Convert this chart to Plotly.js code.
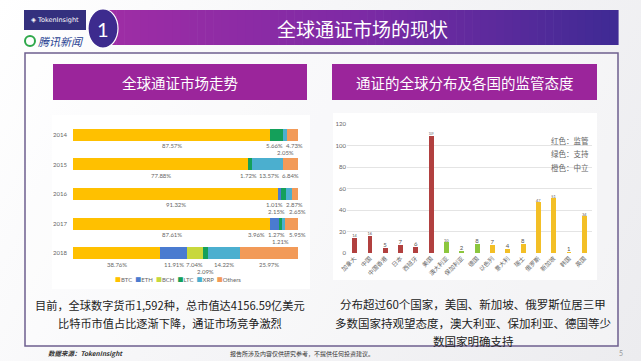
<!DOCTYPE html>
<html><head><meta charset="utf-8">
<script src="https://cdn.plot.ly/plotly-3.0.1.min.js"></script>
<style>
html,body{margin:0;padding:0;width:641px;height:361px;overflow:hidden;
background:linear-gradient(120deg,#ffffff 0%,#f6f6f8 40%,#ececef 100%);}
#chart{width:641px;height:361px;}
</style>
</head><body><div id="chart"></div>
<script>
// ---------- data: left chart (market share of tokens) ----------
const years = ['2014','2015','2016','2017','2018'];
const coins = ['BTC','ETH','BCH','LTC','XRP','Others'];
const btc    = [87.57, 77.88, 91.32, 87.61, 38.76];
const eth    = [0,     0,     1.01,  3.96,  11.91];
const bch    = [0,     0,     0,     0,     7.04];
const ltc    = [5.66,  1.72,  2.15,  1.21,  2.09];
const xrp    = [2.05,  13.57, 2.87,  1.27,  14.22];
const others = [4.73,  6.84,  2.65,  5.95,  25.97];
const coinColors = ['#FFC000','#4A7BD0','#C8D83C','#14A05A','#4BAFCF','#F29A58'];

// ---------- data: right chart (countries & attitude) ----------
const countries = ['加拿大','中国','中国香港','日本','西班牙','美国','澳大利亚','保加利亚','德国',
                   '以色列','意大利','瑞士','俄罗斯','新加坡','韩国','英国'];
const counts    = [14,16,5,7,6,109,10,2,8,7,4,8,47,51,1,34];
const attitude  = ['监管','监管','监管','监管','监管','监管','支持','支持','支持',
                   '中立','中立','中立','中立','中立','中立','中立'];
const attitudes = ['监管','支持','中立'];
const attColors = {'监管':'#B1403F','支持':'#8CC63E','中立':'#F3BF26'};
const attLegend = ['红色：监管','绿色：支持','橙色：中立'];

// ---------- text ----------
const mainTitle = '全球通证市场的现状';
const subTitle1 = '全球通证市场走势';
const subTitle2 = '通证的全球分布及各国的监管态度';
const leftNote  = ['目前，全球数字货币1,592种，总市值达4156.59亿美元','比特币市值占比逐渐下降，通证市场竞争激烈'];
const rightNote = ['分布超过60个国家，美国、新加坡、俄罗斯位居三甲','多数国家持观望态度，澳大利亚、保加利亚、德国等少','数国家明确支持'];

const W = 641, H = 361;
const px = v => v / W;
const py = v => 1 - v / H;
const CJK = '"Noto Sans CJK SC", "Noto Sans", sans-serif';
const NUM = 'Lato, "Noto Sans CJK SC", sans-serif';

const yearIdx = years.map((y, i) => i);
const series = [btc, eth, bch, ltc, xrp, others];
const traces = [];
series.forEach((s, k) => {
  traces.push({type:'bar', orientation:'h', name:coins[k], x:s, y:yearIdx,
    xaxis:'x', yaxis:'y', width:0.4, marker:{color:coinColors[k]},
    hoverinfo:'x+name', showlegend:false});
});
attitudes.forEach(a => {
  const xs = [], ys = [];
  countries.forEach((c, i) => { if (attitude[i] === a) { xs.push(c); ys.push(counts[i]); } });
  traces.push({type:'bar', name:a, x:xs, y:ys, xaxis:'x2', yaxis:'y2', width:0.32,
    marker:{color:attColors[a]}, text:ys.map(String), textposition:'outside',
    textfont:{size:6, color:'#555', family:NUM}, cliponaxis:false, showlegend:false});
});

// ---------- left chart data labels (placed under bars, de-overlapped) ----------
const LW = 9;
const annotations = [];
const relax = row => {
  for (let it = 0; it < 60; it++) {
    for (let j = 1; j < row.length; j++) {
      const gap = row[j].x - row[j-1].x;
      if (gap < LW) { const o = (LW - gap) / 2; row[j-1].x -= o; row[j].x += o; }
    }
  }
  const maxX = 99.6;
  if (row.length && row[row.length-1].x > maxX) {
    row[row.length-1].x = maxX;
    for (let j = row.length-2; j >= 0; j--) if (row[j].x > row[j+1].x - LW) row[j].x = row[j+1].x - LW;
  }
};
years.forEach((yr, i) => {
  let cum = 0; const items = [];
  series.forEach(s => { const v = s[i]; if (v > 0) items.push({x: cum + v/2, x0: cum + v/2, v}); cum += v; });
  const rows = [[], []];
  items.forEach(it => {
    const l0 = rows[0][rows[0].length-1], l1 = rows[1][rows[1].length-1];
    const d0 = l0 ? Math.abs(it.x0 - l0.x0) : 1e9;
    const d1 = l1 ? Math.abs(it.x0 - l1.x0) : 1e9;
    if (d0 >= LW || it.v >= 3) rows[0].push(it);
    else if (d1 >= LW) rows[1].push(it);
    else (d0 >= d1 ? rows[0] : rows[1]).push(it);
  });
  rows.forEach((row, r) => {
    relax(row);
    row.forEach(it => annotations.push({xref:'x', yref:'y', x:it.x, y:i, yshift: r ? -18 : -11,
      xanchor:'center', yanchor:'middle',
      text: it.v.toFixed(2) + '%', showarrow:false, font:{size:6, color:'#666', family:NUM}}));
  });
});

const note = (x, y, text, font, extra) => Object.assign({xref:'paper', yref:'paper', x:px(x), y:py(y),
  xanchor:'center', yanchor:'middle', showarrow:false, text, font}, extra || {});

// left legend
annotations.push(note(178, 279,
  coins.map((c, k) => `<span style="color:${coinColors[k]}">■</span>${c}`).join('  '),
  {size:6, color:'#666', family:NUM}));
// right legend text
attLegend.forEach((t, i) => annotations.push(note(570, 140 + i*13.5, t, {size:7.5, color:'#666', family:CJK})));

// titles
annotations.push(note(362, 28, mainTitle, {size:19, color:'#ffffff', family:CJK}));
annotations.push(note(103, 29, '1', {size:20, color:'#ffffff', family:'Lato, sans-serif'}));
annotations.push(note(180, 82, subTitle1, {size:14.5, color:'#ffffff', family:CJK}));
annotations.push(note(465, 82, subTitle2, {size:14.5, color:'#ffffff', family:CJK}));
// logo text
annotations.push(note(55, 20, '◈ TokenInsight', {size:6.5, color:'#ffffff', family:'"DejaVu Sans", sans-serif'}));
annotations.push(note(61, 41, '<i>腾讯新闻</i>', {size:11, color:'#1f3e91', family:CJK}));
// notes
leftNote.forEach((t, i) => annotations.push(note(170, 305 + i*18, t, {size:11.2, color:'#222', family:CJK})));
rightNote.forEach((t, i) => annotations.push(note(473, 304 + i*18.5, t, {size:11.5, color:'#222', family:CJK})));
// footer
annotations.push(note(46, 353, '<b><i>数据来源：TokenInsight</i></b>', {size:6.5, color:'#333', family:CJK}, {xanchor:'left'}));
annotations.push(note(302, 353, '报告所涉及内容仅供研究参考，不提供任何投资建议。', {size:6, color:'#333', family:CJK}));
annotations.push(note(621, 353, '5', {size:7, color:'#999', family:NUM}));

// ---------- shapes ----------
const shapes = [];
const rect = (x0, y0, x1, y1, fill, line) => ({type:'rect', xref:'paper', yref:'paper',
  x0:px(x0), x1:px(x1), y0:py(y1), y1:py(y0), fillcolor:fill, line: line || {width:0}, layer:'below'});
// header gradient banner
const stops = [[0,[160,45,165]],[0.5,[125,42,165]],[1,[62,42,148]]];
const col = t => { let a = stops[0], b = stops[1]; if (t > 0.5) { a = stops[1]; b = stops[2]; }
  const f = (t - a[0]) / (b[0] - a[0]); const c = a[1].map((v, k) => Math.round(v + (b[1][k] - v) * f));
  return `rgb(${c[0]},${c[1]},${c[2]})`; };
const N = 64, bx0 = 100, bx1 = 618;
for (let i = 0; i < N; i++) {
  const x0 = bx0 + (bx1 - bx0) * i / N, x1 = bx0 + (bx1 - bx0) * (i + 1) / N + 0.6;
  shapes.push(rect(x0, 10, x1, 45, col((i + 0.5) / N)));
}
shapes.push({type:'circle', xref:'paper', yref:'paper', x0:px(88), x1:px(118), y0:py(48), y1:py(9),
  fillcolor:'#3d2b8e', line:{color:'#ffffff', width:1.2}, layer:'below'});
// logo
shapes.push(rect(24, 10, 86, 30, '#34307e'));
shapes.push({type:'circle', xref:'paper', yref:'paper', x0:px(25), x1:px(35), y0:py(46), y1:py(36),
  fillcolor:'rgba(0,0,0,0)', line:{color:'#2ea84a', width:2}, layer:'below'});
// main box
shapes.push(rect(25, 53, 618, 346, 'rgba(255,255,255,0.35)', {color:'#6e5f8f', width:1.5}));
// subtitle banners
shapes.push(rect(53, 64, 307, 100, '#9B259B'));
shapes.push(rect(332, 64, 597, 100, '#9B259B'));
// chart panels
shapes.push(rect(52, 115, 310, 289, '#ffffff'));
shapes.push(rect(333, 113, 597, 280, '#ffffff'));

const layout = {
  width:W, height:H, autosize:false,
  margin:{l:0, r:0, t:0, b:0},
  paper_bgcolor:'rgba(0,0,0,0)', plot_bgcolor:'rgba(0,0,0,0)',
  font:{family:NUM, color:'#666'},
  barmode:'stack',
  showlegend:false,
  xaxis:{domain:[px(73), px(298)], range:[0, 100], visible:false, fixedrange:true, anchor:'y'},
  yaxis:{domain:[py(268), py(120)], type:'linear', range:[years.length - 0.5, -0.5],
    tickmode:'array', tickvals:yearIdx, ticktext:years, showgrid:false,
    zeroline:false, showline:false, ticks:'', tickfont:{size:6, color:'#666'}, ticklabelstandoff:5,
    anchor:'x', fixedrange:true},
  xaxis2:{domain:[px(347), px(592)], type:'category', tickangle:-45, tickfont:{size:6, color:'#666', family:CJK},
    showgrid:false, showline:false, ticks:'', anchor:'y2', fixedrange:true},
  yaxis2:{domain:[py(253), py(124)], range:[0, 120], dtick:20, gridcolor:'#e4e4e4', gridwidth:1,
    zeroline:false, showline:false, ticks:'', tickfont:{size:6, color:'#666'}, anchor:'x2', fixedrange:true},
  shapes, annotations
};
Plotly.newPlot('chart', traces, layout, {displayModeBar:false, staticPlot:true});
</script>
</body></html>
